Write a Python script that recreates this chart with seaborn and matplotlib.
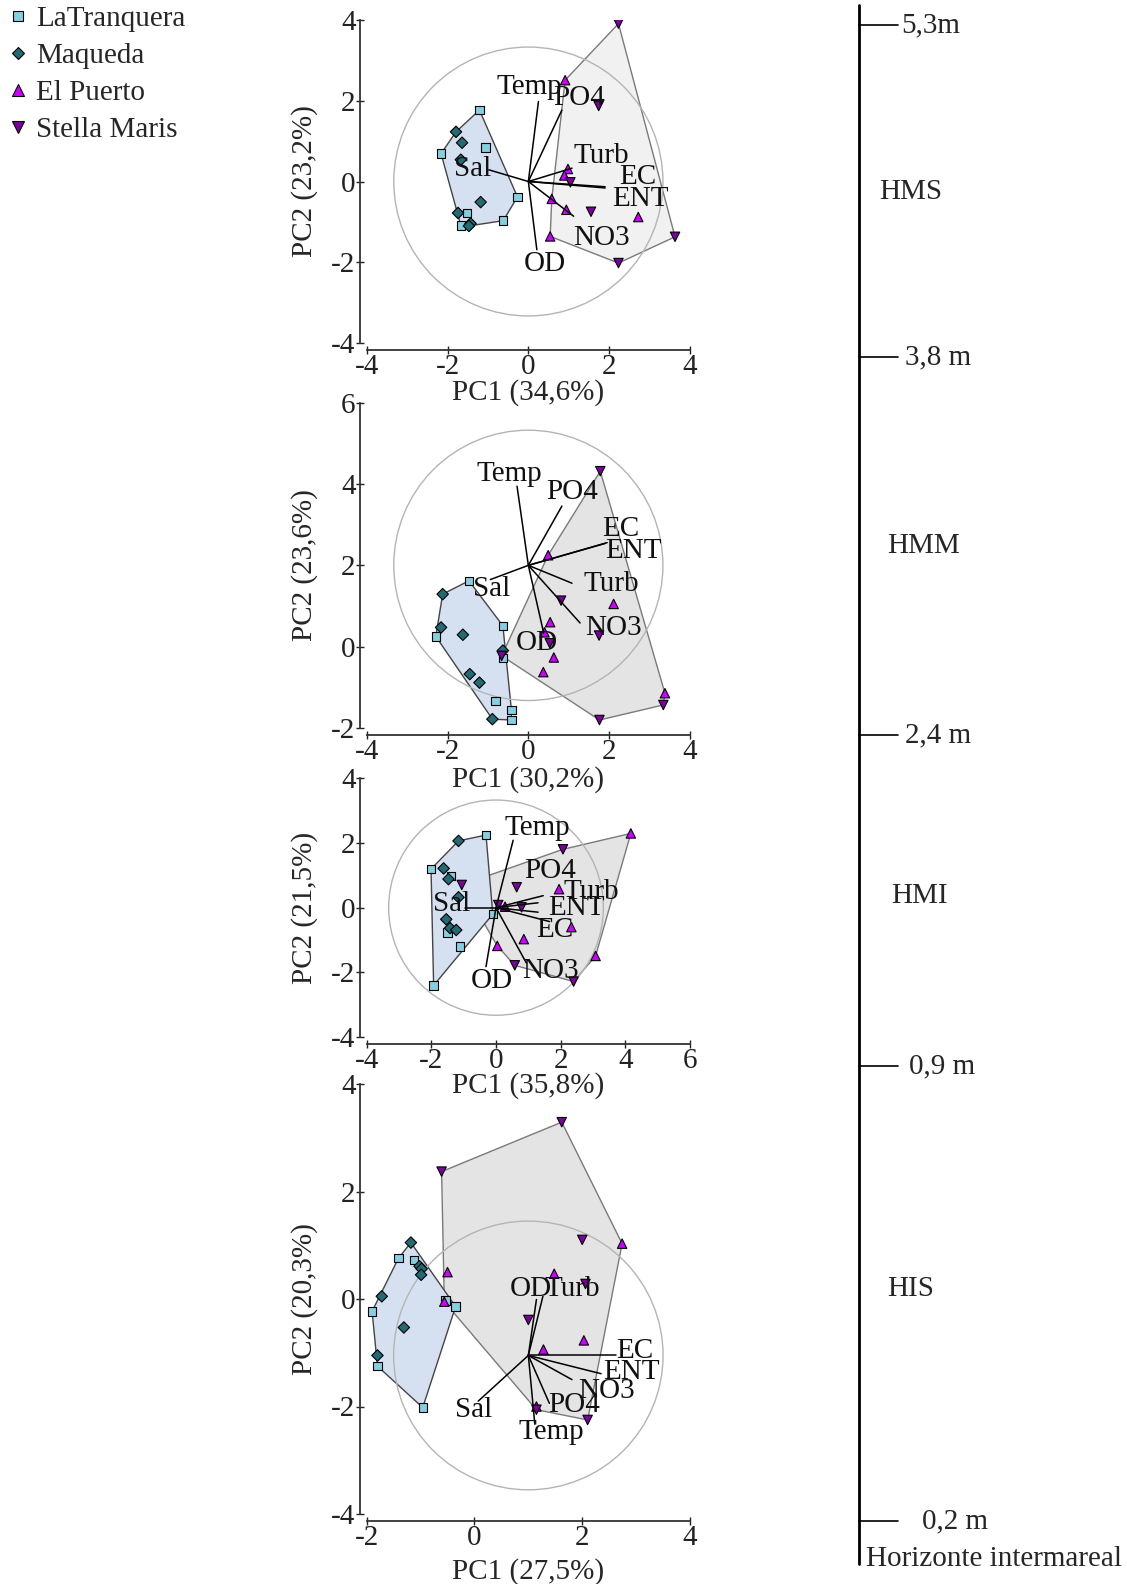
import numpy as np
import pandas as pd
import matplotlib
matplotlib.use("Agg")
import matplotlib.pyplot as plt
import seaborn as sns
from matplotlib.patches import Circle, Polygon
from matplotlib.lines import Line2D

# ---------------- data ----------------
sites = ["LaTranquera", "Maqueda", "El Puerto", "Stella Maris"]
variables = ["Temp", "PO4", "Turb", "EC", "ENT", "NO3", "Sal", "OD"]
panel_names = ["HMS", "HMM", "HMI", "HIS"]
x_labels = ["PC1 (34,6%)", "PC1 (30,2%)", "PC1 (35,8%)", "PC1 (27,5%)"]
y_labels = ["PC2 (23,2%)", "PC2 (23,6%)", "PC2 (21,5%)", "PC2 (20,3%)"]
x_ticks = [[-4, -2, 0, 2, 4], [-4, -2, 0, 2, 4], [-4, -2, 0, 2, 4, 6], [-2, 0, 2, 4]]
y_ticks = [[-4, -2, 0, 2, 4], [-2, 0, 2, 4, 6], [-4, -2, 0, 2, 4], [-4, -2, 0, 2, 4]]

# HMS
hms_tranquera_x = [-1.21, -1.06, -2.16, -0.27, -1.51, -0.62, -1.67]
hms_tranquera_y = [1.77, 0.84, 0.69, -0.38, -0.78, -0.97, -1.09]
hms_maqueda_x = [-1.79, -1.64, -1.67, -1.18, -1.74, -1.43, -1.47]
hms_maqueda_y = [1.23, 0.96, 0.54, -0.51, -0.78, -1.04, -1.10]
hms_puerto_x = [0.91, 0.98, 0.89, 0.58, 0.94, 2.72, 0.54]
hms_puerto_y = [2.51, 0.31, 0.15, -0.43, -0.70, -0.88, -1.36]
hms_stella_x = [2.23, 1.74, 1.04, 1.55, 3.63, 2.23]
hms_stella_y = [3.91, 1.87, -0.02, -0.75, -1.37, -2.02]
hms_origin = [0.0, 0.0]
hms_radius = 3.33
hms_vec_x = [0.25, 0.83, 1.08, 1.90, 1.90, 1.12, -0.98, 0.21]
hms_vec_y = [1.98, 1.77, 0.33, -0.13, -0.16, -0.86, 0.29, -1.69]
hms_lab_x = [0.02, 1.25, 1.80, 2.72, 2.77, 1.80, -1.37, 0.40]
hms_lab_y = [2.34, 2.06, 0.62, 0.10, -0.43, -1.40, 0.30, -2.05]

# HMM
hmm_tranquera_x = [-1.47, -0.63, -2.29, -0.63, -0.81, -0.42, -0.42]
hmm_tranquera_y = [1.62, 0.51, 0.25, -0.29, -1.34, -1.56, -1.81]
hmm_maqueda_x = [-2.12, -2.16, -1.62, -0.63, -1.45, -1.21, -0.89]
hmm_maqueda_y = [1.29, 0.47, 0.29, -0.10, -0.68, -0.89, -1.79]
hmm_puerto_x = [0.49, 2.11, 0.54, 0.40, 0.63, 0.37, 3.38]
hmm_puerto_y = [2.25, 1.05, 0.60, 0.35, -0.27, -0.63, -1.15]
hmm_stella_x = [1.78, 0.81, 1.75, 0.53, -0.66, 3.34, 1.76]
hmm_stella_y = [4.32, 1.13, 0.27, 0.08, -0.23, -1.44, -1.81]
hmm_origin = [0.0, 2.0]
hmm_radius = 3.33
hmm_vec_x = [-0.28, 0.83, 1.08, 1.90, 1.95, 1.28, -0.94, 0.38]
hmm_vec_y = [3.95, 3.46, 1.56, 2.54, 2.56, 0.58, 1.65, 0.33]
hmm_lab_x = [-0.46, 1.08, 2.05, 2.30, 2.59, 2.10, -0.91, 0.20]
hmm_lab_y = [4.24, 3.80, 1.55, 2.90, 2.35, 0.45, 1.42, 0.08]

# HMI
hmi_tranquera_x = [-0.31, -2.01, -1.39, -0.10, -1.50, -1.11, -1.93]
hmi_tranquera_y = [2.24, 1.19, 0.98, -0.20, -0.77, -1.20, -2.40]
hmi_maqueda_x = [-1.16, -1.62, -1.47, -1.16, -1.54, -1.42, -1.23]
hmi_maqueda_y = [2.06, 1.21, 0.88, 0.32, -0.36, -0.63, -0.69]
hmi_puerto_x = [4.17, 1.95, 0.28, 2.33, 0.86, 0.04, 3.08]
hmi_puerto_y = [2.29, 0.57, 0.03, -0.60, -0.97, -1.18, -1.49]
hmi_stella_x = [2.07, -1.06, 0.64, 0.07, 0.79, 0.58, 2.40]
hmi_stella_y = [1.80, 0.70, 0.63, 0.08, 0.01, -1.78, -2.28]
hmi_origin = [0.0, 0.0]
hmi_radius = 3.32
hmi_vec_x = [0.53, 1.30, 1.46, 1.66, 1.30, 0.94, -0.95, -0.31]
hmi_vec_y = [2.08, 0.15, 0.37, -0.43, -0.14, -1.71, 0.00, -1.82]
hmi_lab_x = [1.28, 1.67, 2.95, 1.83, 2.48, 1.70, -1.37, -0.13]
hmi_lab_y = [2.47, 1.14, 0.48, -0.70, -0.02, -1.94, 0.11, -2.25]

# HIS
his_tranquera_x = [-1.41, -1.12, -0.54, -0.35, -1.90, -1.80, -0.96]
his_tranquera_y = [0.76, 0.73, -0.03, -0.14, -0.23, -1.25, -2.02]
his_maqueda_x = [-1.18, -1.02, -0.98, -0.99, -1.72, -1.31, -1.80]
his_maqueda_y = [1.05, 0.61, 0.56, 0.45, 0.05, -0.53, -1.05]
his_puerto_x = [-0.50, -0.56, 1.48, 2.74, 2.03, 1.28, 1.15]
his_puerto_y = [0.50, -0.05, 0.47, 1.03, -0.77, -0.94, -2.00]
his_stella_x = [1.62, -0.61, 2.00, 2.06, 1.00, 1.15, 2.10]
his_stella_y = [3.29, 2.37, 1.10, 0.28, -0.39, -2.06, -2.25]
his_origin = [1.0, -1.05]
his_radius = 2.5
his_vec_x = [1.12, 1.39, 1.27, 2.62, 2.35, 1.81, 0.07, 1.15]
his_vec_y = [-2.33, -1.94, 0.05, -1.05, -1.39, -1.50, -1.90, -0.01]
his_lab_x = [1.43, 1.85, 1.81, 2.97, 2.92, 2.45, -0.01, 1.04]
his_lab_y = [-2.48, -1.97, 0.19, -0.97, -1.35, -1.71, -2.06, 0.19]

# scale on the right
level_labels = ["5,3m", "3,8 m", "2,4 m", "0,9 m", "0,2 m"]
zone_labels = ["HMS", "HMM", "HMI", "HIS"]

panels = [
    dict(tr=(hms_tranquera_x, hms_tranquera_y), mq=(hms_maqueda_x, hms_maqueda_y),
         pu=(hms_puerto_x, hms_puerto_y), st=(hms_stella_x, hms_stella_y),
         origin=hms_origin, radius=hms_radius, vx=hms_vec_x, vy=hms_vec_y, lx=hms_lab_x, ly=hms_lab_y),
    dict(tr=(hmm_tranquera_x, hmm_tranquera_y), mq=(hmm_maqueda_x, hmm_maqueda_y),
         pu=(hmm_puerto_x, hmm_puerto_y), st=(hmm_stella_x, hmm_stella_y),
         origin=hmm_origin, radius=hmm_radius, vx=hmm_vec_x, vy=hmm_vec_y, lx=hmm_lab_x, ly=hmm_lab_y),
    dict(tr=(hmi_tranquera_x, hmi_tranquera_y), mq=(hmi_maqueda_x, hmi_maqueda_y),
         pu=(hmi_puerto_x, hmi_puerto_y), st=(hmi_stella_x, hmi_stella_y),
         origin=hmi_origin, radius=hmi_radius, vx=hmi_vec_x, vy=hmi_vec_y, lx=hmi_lab_x, ly=hmi_lab_y),
    dict(tr=(his_tranquera_x, his_tranquera_y), mq=(his_maqueda_x, his_maqueda_y),
         pu=(his_puerto_x, his_puerto_y), st=(his_stella_x, his_stella_y),
         origin=his_origin, radius=his_radius, vx=his_vec_x, vy=his_vec_y, lx=his_lab_x, ly=his_lab_y),
]

# ---------------- style ----------------
sns.set_theme(style="ticks")
plt.rcParams["font.family"] = ["Liberation Serif", "DejaVu Serif"]
plt.rcParams["axes.unicode_minus"] = False

palette = {"LaTranquera": "#86cfe0", "Maqueda": "#226a74",
           "El Puerto": "#cc00ff", "Stella Maris": "#7d009e"}
markers = {"LaTranquera": "s", "Maqueda": "D", "El Puerto": "^", "Stella Maris": "v"}
sizes = {"LaTranquera": 36, "Maqueda": 34, "El Puerto": 46, "Stella Maris": 46}
legend_msize = {"LaTranquera": 7, "Maqueda": 6.5, "El Puerto": 8.5, "Stella Maris": 8.5}

W, H = 1127, 1584
fig = plt.figure(figsize=(W / 100, H / 100), dpi=100)
fig.patch.set_facecolor("white")

# axes rectangles in pixels: (left, top, right, bottom) of data area
rects_px = [(366.7, 20, 690, 343), (366.7, 403, 690, 727.7),
            (366.7, 778, 690, 1037.3), (366.7, 1084, 690, 1514)]
xlabel_gap_px = [36, 38, 35, 44]
gray_fills = ["#f1f1f1", "#e4e4e4", "#e4e4e4", "#e4e4e4"]


def convex_hull(pts):
    pts = sorted(set(map(tuple, pts)))
    if len(pts) <= 2:
        return pts

    def cross(o, a, b):
        return (a[0] - o[0]) * (b[1] - o[1]) - (a[1] - o[1]) * (b[0] - o[0])
    lower, upper = [], []
    for p in pts:
        while len(lower) >= 2 and cross(lower[-2], lower[-1], p) <= 0:
            lower.pop()
        lower.append(p)
    for p in reversed(pts):
        while len(upper) >= 2 and cross(upper[-2], upper[-1], p) <= 0:
            upper.pop()
        upper.append(p)
    return lower[:-1] + upper[:-1]


for i, p in enumerate(panels):
    l, t, r, b = rects_px[i]
    ax = fig.add_axes([l / W, 1 - b / H, (r - l) / W, (b - t) / H])
    ax.set_facecolor("none")
    frames = []
    for key, site in zip(["tr", "mq", "pu", "st"], sites):
        xs, ys = p[key]
        frames.append(pd.DataFrame({"x": xs, "y": ys, "site": site}))
    df = pd.concat(frames, ignore_index=True)

    # hulls
    blue_pts = df[df.site.isin(sites[:2])][["x", "y"]].values
    gray_pts = df[df.site.isin(sites[2:])][["x", "y"]].values
    ax.add_patch(Polygon(convex_hull(gray_pts), closed=True, facecolor=gray_fills[i],
                         edgecolor="#7a7a7a", lw=1.0, zorder=1))
    ax.add_patch(Polygon(convex_hull(blue_pts), closed=True, facecolor="#d5e1f1",
                         edgecolor="#444444", lw=1.0, zorder=1.5))
    ax.add_patch(Circle(tuple(p["origin"]), p["radius"], fill=False,
                        edgecolor="#b4b4b4", lw=1.0, zorder=2))

    sns.scatterplot(data=df, x="x", y="y", hue="site", style="site", hue_order=sites,
                    style_order=sites, palette=palette, markers=markers, size="site",
                    sizes=sizes, size_order=sites, edgecolor="black", linewidth=0.8,
                    zorder=3, ax=ax, legend=False)

    ox, oy = p["origin"]
    for name, vx, vy, lx, ly in zip(variables, p["vx"], p["vy"], p["lx"], p["ly"]):
        ax.plot([ox, vx], [oy, vy], color="black", lw=1.1, zorder=4)
        ax.text(lx, ly, name, ha="center", va="center", fontsize=21, color="#111111", zorder=5)

    ax.set_xlim(x_ticks[i][0], x_ticks[i][-1])
    ax.set_ylim(y_ticks[i][0], y_ticks[i][-1])
    ax.set_xticks(x_ticks[i])
    ax.set_yticks(y_ticks[i])
    ax.tick_params(direction="inout", length=6, width=1.0, labelsize=21, pad=0,
                   colors="#222222")
    for s in ["left", "bottom"]:
        ax.spines[s].set_color("#333333")
        ax.spines[s].set_linewidth(1.3)
    sns.despine(ax=ax, offset=5, trim=True)

    ax.set_xlabel(x_labels[i], fontsize=21, va="top")
    ax.set_ylabel(y_labels[i], fontsize=21)
    ax.xaxis.set_label_coords(0.5, -xlabel_gap_px[i] / (b - t))
    ax.yaxis.set_label_coords(-(l - 318) / (r - l), 0.5)

# legend
handles = [Line2D([0], [0], marker=markers[s], linestyle="", markersize=legend_msize[s],
                  markerfacecolor=palette[s], markeredgecolor="black", markeredgewidth=0.8)
           for s in sites]
fig.legend(handles, sites, loc="upper left", bbox_to_anchor=(0.0, 1.0), frameon=False,
           fontsize=21, borderaxespad=0.0, borderpad=0.2, handlelength=0.8,
           handletextpad=0.25, labelspacing=0.36)

# right-hand height scale
ov = fig.add_axes([0, 0, 1, 1], zorder=-1)
ov.set_xlim(0, W)
ov.set_ylim(H, 0)
ov.axis("off")
level_y = [25, 357, 735, 1066, 1521]
level_text_x = [901, 905, 905, 909, 922]
ov.plot([859, 859], [5, 1564], color="black", lw=2.0)
for lab, yy, tx in zip(level_labels, level_y, level_text_x):
    ov.plot([859, 898], [yy, yy], color="black", lw=1.2)
    ov.text(tx, yy, lab, ha="left", va="center", fontsize=21)
zone_xy = [(911, 192), (924, 546), (920, 896), (911, 1289)]
for lab, (zx, zy) in zip(zone_labels, zone_xy):
    ov.text(zx, zy, lab, ha="center", va="center", fontsize=21)
ov.text(866, 1559, "Horizonte intermareal", ha="left", va="center", fontsize=21)

fig.savefig("out.png", dpi=100)
